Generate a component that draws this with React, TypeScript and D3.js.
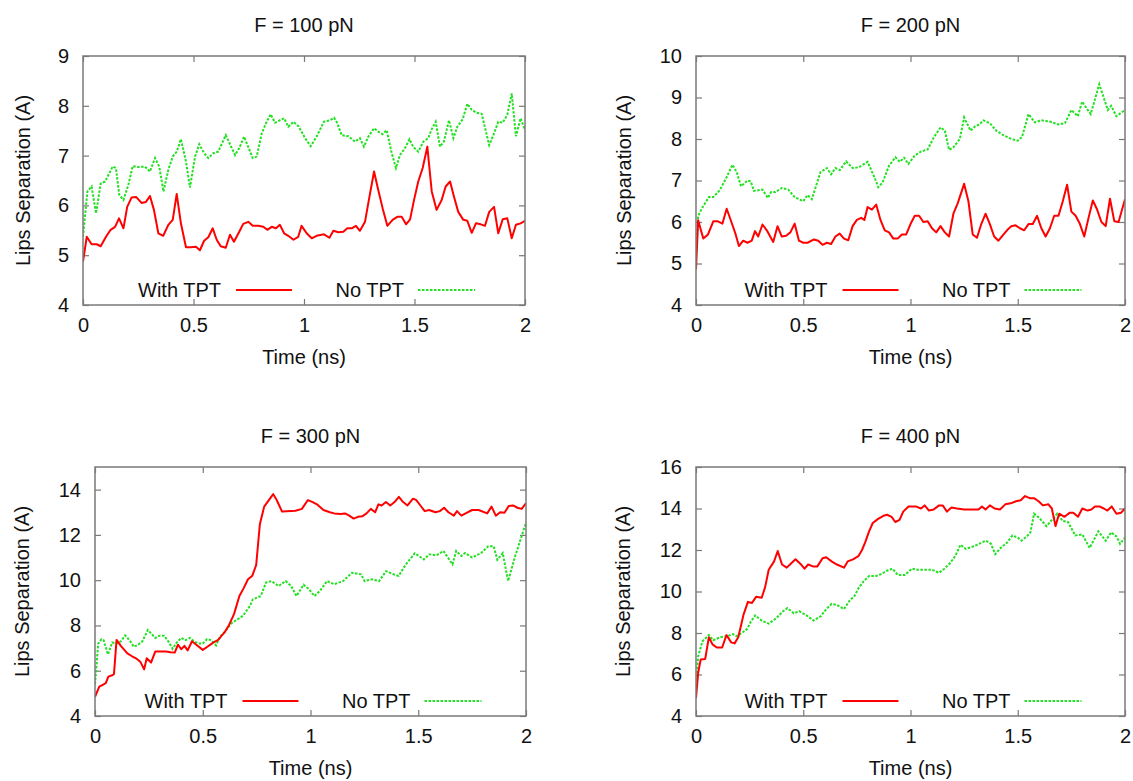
import { useEffect, useRef } from 'react';
import * as d3 from 'd3';

type Pt = [number, number];

const timeTicks = [0, 0.5, 1, 1.5, 2];
const ticks100 = [4, 5, 6, 7, 8, 9];
const ticks200 = [4, 5, 6, 7, 8, 9, 10];
const ticks300 = [4, 6, 8, 10, 12, 14];
const ticks400 = [4, 6, 8, 10, 12, 14, 16];

// F = 100 pN
const f100With: Pt[] = [[0,4.87],[0.017,5.37],[0.039,5.22],[0.062,5.22],[0.08,5.18],[0.104,5.37],[0.125,5.51],[0.145,5.57],[0.163,5.74],[0.183,5.54],[0.2,5.97],[0.22,6.16],[0.24,6.17],[0.265,6.05],[0.285,6.07],[0.303,6.19],[0.321,5.91],[0.341,5.44],[0.363,5.39],[0.386,5.61],[0.406,5.71],[0.424,6.23],[0.443,5.64],[0.466,5.16],[0.487,5.16],[0.511,5.17],[0.529,5.1],[0.548,5.29],[0.567,5.36],[0.587,5.54],[0.605,5.31],[0.623,5.18],[0.646,5.15],[0.665,5.41],[0.683,5.27],[0.707,5.47],[0.725,5.63],[0.748,5.67],[0.768,5.59],[0.793,5.59],[0.816,5.57],[0.834,5.51],[0.854,5.57],[0.873,5.54],[0.891,5.61],[0.91,5.44],[0.929,5.39],[0.952,5.31],[0.974,5.37],[0.989,5.59],[1.012,5.44],[1.035,5.34],[1.057,5.39],[1.09,5.42],[1.115,5.35],[1.133,5.49],[1.155,5.46],[1.178,5.47],[1.196,5.54],[1.216,5.54],[1.235,5.59],[1.253,5.49],[1.276,5.67],[1.296,6.17],[1.317,6.68],[1.336,6.31],[1.356,5.94],[1.377,5.59],[1.401,5.71],[1.422,5.77],[1.442,5.77],[1.462,5.62],[1.48,5.72],[1.498,6.11],[1.517,6.48],[1.537,6.75],[1.558,7.18],[1.578,6.28],[1.6,5.91],[1.623,6.11],[1.641,6.38],[1.661,6.48],[1.679,6.17],[1.698,5.87],[1.721,5.71],[1.739,5.69],[1.759,5.45],[1.778,5.64],[1.8,5.62],[1.819,5.59],[1.838,5.87],[1.86,5.97],[1.879,5.44],[1.899,5.72],[1.92,5.74],[1.94,5.34],[1.959,5.61],[1.98,5.64],[2,5.69]];
const f100No: Pt[] = [[0,5.37],[0.02,6.28],[0.039,6.38],[0.059,5.84],[0.08,6.44],[0.1,6.48],[0.115,6.61],[0.134,6.78],[0.149,6.75],[0.164,6.21],[0.183,6.11],[0.205,6.41],[0.225,6.79],[0.25,6.77],[0.28,6.78],[0.303,6.68],[0.326,6.95],[0.345,6.78],[0.364,6.28],[0.386,6.71],[0.406,6.98],[0.424,7.08],[0.443,7.33],[0.466,6.88],[0.484,6.36],[0.507,6.98],[0.526,7.23],[0.548,7.05],[0.567,6.95],[0.59,7.05],[0.612,7.08],[0.646,7.41],[0.688,7.01],[0.707,7.15],[0.729,7.38],[0.748,7.17],[0.768,6.95],[0.786,6.98],[0.809,7.45],[0.828,7.65],[0.849,7.83],[0.869,7.66],[0.891,7.71],[0.91,7.75],[0.929,7.58],[0.952,7.68],[0.975,7.59],[1.005,7.35],[1.03,7.19],[1.057,7.38],[1.09,7.68],[1.118,7.71],[1.136,7.76],[1.151,7.65],[1.17,7.41],[1.2,7.39],[1.231,7.28],[1.253,7.35],[1.271,7.18],[1.291,7.38],[1.317,7.55],[1.336,7.48],[1.356,7.43],[1.374,7.51],[1.397,7.05],[1.416,6.75],[1.434,7.01],[1.457,7.15],[1.477,7.33],[1.495,7.17],[1.517,7.08],[1.54,7.28],[1.562,7.35],[1.578,7.53],[1.596,7.68],[1.615,7.18],[1.633,7.28],[1.656,7.71],[1.676,7.35],[1.694,7.58],[1.718,7.73],[1.739,8.04],[1.759,7.92],[1.781,7.86],[1.804,7.84],[1.838,7.21],[1.857,7.41],[1.879,7.68],[1.899,7.66],[1.92,7.82],[1.94,8.25],[1.959,7.39],[1.98,7.75],[2,7.51]];

// F = 200 pN
const f200With: Pt[] = [[0,4.86],[0.01,6.04],[0.034,5.6],[0.056,5.7],[0.081,6.02],[0.1,6.02],[0.123,5.96],[0.143,6.32],[0.165,6.0],[0.185,5.7],[0.2,5.42],[0.22,5.55],[0.24,5.5],[0.26,5.55],[0.275,5.78],[0.29,5.65],[0.31,5.94],[0.33,5.8],[0.36,5.52],[0.38,5.9],[0.4,5.65],[0.42,5.67],[0.44,5.75],[0.46,5.96],[0.48,5.55],[0.5,5.5],[0.52,5.5],[0.55,5.58],[0.57,5.55],[0.59,5.45],[0.61,5.5],[0.63,5.47],[0.65,5.65],[0.67,5.72],[0.69,5.6],[0.71,5.56],[0.73,5.9],[0.75,6.05],[0.77,6.1],[0.785,6.05],[0.8,6.36],[0.82,6.3],[0.84,6.42],[0.86,6.05],[0.88,5.8],[0.9,5.75],[0.92,5.6],[0.94,5.6],[0.96,5.7],[0.98,5.7],[1.0,5.95],[1.02,6.15],[1.04,6.15],[1.06,6.0],[1.08,6.02],[1.1,5.85],[1.12,5.75],[1.14,5.9],[1.16,5.75],[1.18,5.65],[1.2,6.2],[1.22,6.45],[1.25,6.92],[1.27,6.5],[1.29,5.7],[1.31,5.62],[1.33,5.95],[1.35,6.2],[1.37,5.95],[1.39,5.65],[1.41,5.55],[1.43,5.68],[1.45,5.8],[1.47,5.9],[1.49,5.92],[1.51,5.85],[1.53,5.8],[1.55,5.95],[1.57,5.95],[1.59,6.15],[1.61,5.85],[1.63,5.65],[1.65,5.85],[1.67,6.15],[1.69,6.15],[1.71,6.5],[1.73,6.9],[1.75,6.25],[1.77,6.15],[1.79,5.95],[1.81,5.65],[1.83,6.1],[1.85,6.52],[1.87,6.3],[1.89,6.0],[1.91,5.9],[1.93,6.56],[1.95,6.02],[1.97,6.0],[2,6.55]];
const f200No: Pt[] = [[0,5.3],[0.01,6.15],[0.03,6.35],[0.06,6.6],[0.08,6.6],[0.11,6.76],[0.14,7.05],[0.17,7.38],[0.19,7.2],[0.21,6.86],[0.24,7.0],[0.255,6.98],[0.27,6.75],[0.31,6.78],[0.335,6.58],[0.35,6.72],[0.37,6.72],[0.4,6.82],[0.43,6.78],[0.46,6.6],[0.5,6.5],[0.52,6.65],[0.54,6.55],[0.58,7.2],[0.61,7.3],[0.63,7.15],[0.65,7.3],[0.67,7.25],[0.7,7.46],[0.73,7.3],[0.76,7.32],[0.8,7.45],[0.83,7.1],[0.85,6.84],[0.87,6.95],[0.9,7.36],[0.93,7.56],[0.95,7.45],[0.97,7.55],[0.99,7.4],[1.02,7.6],[1.05,7.7],[1.08,7.75],[1.11,8.05],[1.14,8.28],[1.16,8.2],[1.18,7.74],[1.2,7.8],[1.23,8.0],[1.25,8.52],[1.28,8.2],[1.3,8.3],[1.32,8.35],[1.34,8.45],[1.37,8.38],[1.4,8.2],[1.43,8.1],[1.47,8.0],[1.5,7.96],[1.52,8.05],[1.55,8.6],[1.58,8.4],[1.61,8.45],[1.65,8.42],[1.69,8.35],[1.72,8.38],[1.75,8.7],[1.78,8.55],[1.8,8.9],[1.84,8.6],[1.88,9.32],[1.92,8.7],[1.935,8.8],[1.96,8.55],[2,8.7]];

// F = 300 pN
const f300With: Pt[] = [[0,4.85],[0.02,5.3],[0.04,5.4],[0.05,5.45],[0.062,5.74],[0.08,5.8],[0.088,5.85],[0.1,7.36],[0.12,7.1],[0.15,6.77],[0.17,6.65],[0.19,6.55],[0.21,6.4],[0.228,6.06],[0.24,6.55],[0.26,6.36],[0.28,6.85],[0.3,6.85],[0.33,6.85],[0.35,6.82],[0.37,6.8],[0.385,7.15],[0.4,6.95],[0.415,7.1],[0.43,6.9],[0.45,7.3],[0.47,7.15],[0.5,6.92],[0.52,7.05],[0.55,7.25],[0.57,7.35],[0.6,7.68],[0.62,7.98],[0.645,8.5],[0.67,9.3],[0.69,9.65],[0.71,10.04],[0.73,10.2],[0.748,10.67],[0.765,12.47],[0.785,13.25],[0.8,13.45],[0.827,13.8],[0.84,13.6],[0.85,13.4],[0.868,13.03],[0.89,13.05],[0.93,13.07],[0.96,13.15],[0.988,13.54],[1.01,13.45],[1.03,13.35],[1.06,13.1],[1.09,13.0],[1.11,12.95],[1.14,12.92],[1.16,12.95],[1.18,12.85],[1.2,12.72],[1.22,12.8],[1.24,12.82],[1.26,12.95],[1.28,13.15],[1.3,13.0],[1.315,13.35],[1.33,13.3],[1.35,13.45],[1.37,13.3],[1.39,13.45],[1.41,13.68],[1.43,13.45],[1.45,13.3],[1.476,13.6],[1.49,13.55],[1.51,13.3],[1.53,13.05],[1.55,13.1],[1.58,13.0],[1.6,13.05],[1.62,13.2],[1.64,13.0],[1.665,12.85],[1.68,13.05],[1.7,12.85],[1.72,12.95],[1.75,13.1],[1.78,13.1],[1.82,12.95],[1.84,13.25],[1.86,12.85],[1.88,13.0],[1.9,12.98],[1.92,13.28],[1.94,13.3],[1.96,13.2],[1.98,13.15],[2,13.4]];
const f300No: Pt[] = [[0,5.4],[0.015,7.2],[0.03,7.39],[0.04,7.35],[0.06,6.72],[0.08,7.25],[0.1,7.2],[0.12,7.3],[0.14,7.56],[0.16,7.35],[0.18,7.06],[0.2,7.15],[0.22,7.3],[0.245,7.8],[0.26,7.65],[0.28,7.45],[0.3,7.55],[0.32,7.55],[0.34,7.3],[0.36,6.97],[0.38,7.25],[0.4,7.45],[0.42,7.35],[0.44,7.45],[0.46,7.3],[0.48,7.2],[0.5,7.2],[0.52,7.4],[0.54,7.35],[0.562,7.12],[0.58,7.5],[0.6,7.7],[0.636,8.12],[0.686,8.42],[0.719,8.86],[0.732,9.15],[0.769,9.3],[0.794,9.9],[0.819,9.96],[0.852,9.74],[0.885,9.96],[0.91,9.74],[0.935,9.3],[0.968,9.8],[0.993,9.6],[1.018,9.3],[1.043,9.52],[1.077,9.96],[1.11,9.82],[1.151,9.96],[1.193,10.33],[1.235,10.26],[1.251,9.96],[1.285,10.04],[1.318,9.96],[1.351,10.4],[1.384,10.26],[1.409,10.19],[1.443,10.7],[1.484,11.19],[1.526,10.92],[1.551,11.14],[1.584,11.1],[1.617,11.29],[1.659,10.7],[1.676,11.29],[1.7,11.07],[1.717,11.2],[1.75,11.0],[1.792,11.2],[1.825,11.5],[1.85,11.5],[1.867,10.9],[1.892,11.2],[1.917,9.96],[1.95,11.07],[2,12.54]];

// F = 400 pN
const f400With: Pt[] = [[0,4.85],[0.01,6.08],[0.022,6.72],[0.043,6.75],[0.06,7.8],[0.077,7.45],[0.097,7.3],[0.122,7.3],[0.142,7.9],[0.164,7.55],[0.18,7.5],[0.197,7.8],[0.222,8.9],[0.242,9.5],[0.261,9.45],[0.281,9.75],[0.306,9.7],[0.322,10.2],[0.339,11.05],[0.364,11.45],[0.381,11.95],[0.401,11.3],[0.423,11.15],[0.443,11.35],[0.464,11.55],[0.49,11.3],[0.506,11.1],[0.523,11.3],[0.548,11.2],[0.565,11.2],[0.59,11.6],[0.607,11.65],[0.632,11.45],[0.657,11.3],[0.69,11.15],[0.707,11.45],[0.732,11.55],[0.757,11.7],[0.774,12.0],[0.79,12.4],[0.807,12.9],[0.824,13.3],[0.849,13.5],[0.874,13.65],[0.891,13.7],[0.912,13.6],[0.929,13.35],[0.949,13.45],[0.966,13.85],[0.991,14.1],[1.024,14.1],[1.049,14.0],[1.066,14.15],[1.086,13.9],[1.108,13.95],[1.133,14.15],[1.15,14.15],[1.17,13.85],[1.191,14.05],[1.216,14.0],[1.25,13.95],[1.283,13.95],[1.317,13.95],[1.333,14.1],[1.35,13.95],[1.37,14.15],[1.392,14.0],[1.417,13.95],[1.442,14.2],[1.467,14.25],[1.492,14.35],[1.514,14.4],[1.534,14.6],[1.556,14.5],[1.576,14.5],[1.597,14.35],[1.617,14.15],[1.643,14.2],[1.659,14.0],[1.676,13.15],[1.693,13.75],[1.718,13.6],[1.743,13.8],[1.759,13.8],[1.781,13.6],[1.801,14.0],[1.826,13.9],[1.843,13.95],[1.86,14.1],[1.881,14.1],[1.901,14.0],[1.918,13.9],[1.938,14.1],[1.96,13.75],[1.982,13.8],[2,14.0]];
const f400No: Pt[] = [[0,5.3],[0.01,6.88],[0.03,7.6],[0.06,7.9],[0.08,7.65],[0.114,7.8],[0.147,7.85],[0.172,7.95],[0.189,7.85],[0.214,8.0],[0.239,8.2],[0.256,8.55],[0.276,8.85],[0.306,8.6],[0.339,8.45],[0.373,8.7],[0.406,9.05],[0.426,9.2],[0.456,8.95],[0.481,9.05],[0.515,8.85],[0.548,8.6],[0.581,8.8],[0.607,9.15],[0.632,9.4],[0.657,9.35],[0.69,9.15],[0.715,9.55],[0.74,9.8],[0.757,10.15],[0.782,10.5],[0.807,10.75],[0.84,10.75],[0.866,10.85],[0.89,11.0],[0.916,11.1],[0.941,10.8],[0.974,10.8],[1.007,11.1],[1.033,11.05],[1.066,11.05],[1.1,11.05],[1.133,10.9],[1.158,11.1],[1.183,11.35],[1.208,11.7],[1.233,12.25],[1.258,12.05],[1.3,12.2],[1.35,12.45],[1.375,12.3],[1.395,11.8],[1.425,12.15],[1.45,12.35],[1.475,12.7],[1.5,12.6],[1.517,12.45],[1.542,12.65],[1.559,12.85],[1.576,13.75],[1.6,13.55],[1.634,13.15],[1.659,13.45],[1.684,13.75],[1.709,13.4],[1.734,13.35],[1.768,12.7],[1.801,12.75],[1.835,12.1],[1.876,12.9],[1.91,12.45],[1.935,12.85],[1.96,12.65],[1.977,12.3],[2,12.6]];

const panels = [
  { title: 'F = 100 pN', withTPT: f100With, noTPT: f100No, yMax: 9, yTicks: ticks100, left: 83, right: 525, top: 56, bottom: 305, labelX: 23 },
  { title: 'F = 200 pN', withTPT: f200With, noTPT: f200No, yMax: 10, yTicks: ticks200, left: 696, right: 1125, top: 56, bottom: 305, labelX: 624 },
  { title: 'F = 300 pN', withTPT: f300With, noTPT: f300No, yMax: 15, yTicks: ticks300, left: 95, right: 526, top: 467, bottom: 716, labelX: 22 },
  { title: 'F = 400 pN', withTPT: f400With, noTPT: f400No, yMax: 16, yTicks: ticks400, left: 696, right: 1125, top: 467, bottom: 716, labelX: 623 },
];

const FONT = '"Liberation Sans", Arial, Helvetica, sans-serif';
const BORDER = '#7a7a7a';
const RED = '#ff0000';
const GREEN = '#22e022';

const App = () => {
  const svgRef = useRef<SVGSVGElement>(null);

  useEffect(() => {
    if (!svgRef.current) return;
    const svg = d3.select(svgRef.current);
    svg.selectAll('*').remove();

    panels.forEach((p, i) => {
      const x = d3.scaleLinear().domain([0, 2]).range([p.left, p.right]);
      const y = d3.scaleLinear().domain([4, p.yMax]).range([p.bottom, p.top]);
      const g = svg.append('g');
      const cx = (p.left + p.right) / 2;

      const styleAxis = (sel: any) => {
        sel.select('.domain').remove();
        sel.selectAll('line').attr('stroke', BORDER).attr('stroke-width', 1.2);
        sel.selectAll('text')
          .attr('fill', '#111')
          .style('font-family', FONT)
          .style('font-size', '20px');
      };

      g.append('g')
        .attr('transform', `translate(0,${p.bottom})`)
        .call(d3.axisBottom(x).tickValues(timeTicks).tickFormat((d: any) => String(d)).tickSizeInner(-6).tickSizeOuter(0).tickPadding(13))
        .call(styleAxis);
      g.append('g')
        .attr('transform', `translate(0,${p.top})`)
        .call(d3.axisTop(x).tickValues(timeTicks).tickFormat(() => '').tickSizeInner(-6).tickSizeOuter(0))
        .call(styleAxis);
      g.append('g')
        .attr('transform', `translate(${p.left},0)`)
        .call(d3.axisLeft(y).tickValues(p.yTicks).tickFormat((d: any) => String(d)).tickSizeInner(-6).tickSizeOuter(0).tickPadding(14))
        .call(styleAxis);
      g.append('g')
        .attr('transform', `translate(${p.right},0)`)
        .call(d3.axisRight(y).tickValues(p.yTicks).tickFormat(() => '').tickSizeInner(-6).tickSizeOuter(0))
        .call(styleAxis);

      const clipId = `clip-${i}`;
      g.append('clipPath').attr('id', clipId)
        .append('rect')
        .attr('x', p.left).attr('y', p.top)
        .attr('width', p.right - p.left).attr('height', p.bottom - p.top);

      const line = d3.line<Pt>().x(d => x(d[0])).y(d => y(d[1]));

      g.append('path')
        .datum(p.noTPT)
        .attr('clip-path', `url(#${clipId})`)
        .attr('fill', 'none')
        .attr('stroke', GREEN)
        .attr('stroke-width', 2)
        .attr('stroke-dasharray', '2.5,1.5')
        .attr('d', line);

      g.append('path')
        .datum(p.withTPT)
        .attr('clip-path', `url(#${clipId})`)
        .attr('fill', 'none')
        .attr('stroke', RED)
        .attr('stroke-width', 2)
        .attr('stroke-linejoin', 'round')
        .attr('d', line);

      g.append('rect')
        .attr('x', p.left).attr('y', p.top)
        .attr('width', p.right - p.left).attr('height', p.bottom - p.top)
        .attr('fill', 'none')
        .attr('stroke', BORDER)
        .attr('stroke-width', 1.5);

      // legend
      const ly = p.bottom - 15;
      g.append('text')
        .attr('x', cx - 83).attr('y', ly).attr('dy', '0.35em')
        .attr('text-anchor', 'end')
        .style('font-family', FONT).style('font-size', '20px').attr('fill', '#111')
        .text('With TPT');
      g.append('line')
        .attr('x1', cx - 68).attr('x2', cx - 12).attr('y1', ly).attr('y2', ly)
        .attr('stroke', RED).attr('stroke-width', 2);
      g.append('text')
        .attr('x', cx + 100).attr('y', ly).attr('dy', '0.35em')
        .attr('text-anchor', 'end')
        .style('font-family', FONT).style('font-size', '20px').attr('fill', '#111')
        .text('No TPT');
      g.append('line')
        .attr('x1', cx + 114).attr('x2', cx + 171).attr('y1', ly).attr('y2', ly)
        .attr('stroke', GREEN).attr('stroke-width', 2).attr('stroke-dasharray', '2.5,1.5');

      // titles and axis labels
      g.append('text')
        .attr('x', cx).attr('y', p.top - 31).attr('dy', '0.35em')
        .attr('text-anchor', 'middle')
        .style('font-family', FONT).style('font-size', '20px').attr('fill', '#111')
        .text(p.title);
      g.append('text')
        .attr('x', cx).attr('y', p.bottom + 52).attr('dy', '0.35em')
        .attr('text-anchor', 'middle')
        .style('font-family', FONT).style('font-size', '20px').attr('fill', '#111')
        .text('Time (ns)');
      g.append('text')
        .attr('transform', `translate(${p.labelX},${(p.top + p.bottom) / 2}) rotate(-90)`)
        .attr('dy', '0.35em')
        .attr('text-anchor', 'middle')
        .style('font-family', FONT).style('font-size', '20px').attr('fill', '#111')
        .text('Lips Separation (A)');
    });
  }, []);

  return (
    <div style={{ position: 'absolute', left: 0, top: 0, width: 1133, height: 781, background: '#fff' }}>
      <svg ref={svgRef} width={1133} height={781}></svg>
    </div>
  );
};

export default App;
